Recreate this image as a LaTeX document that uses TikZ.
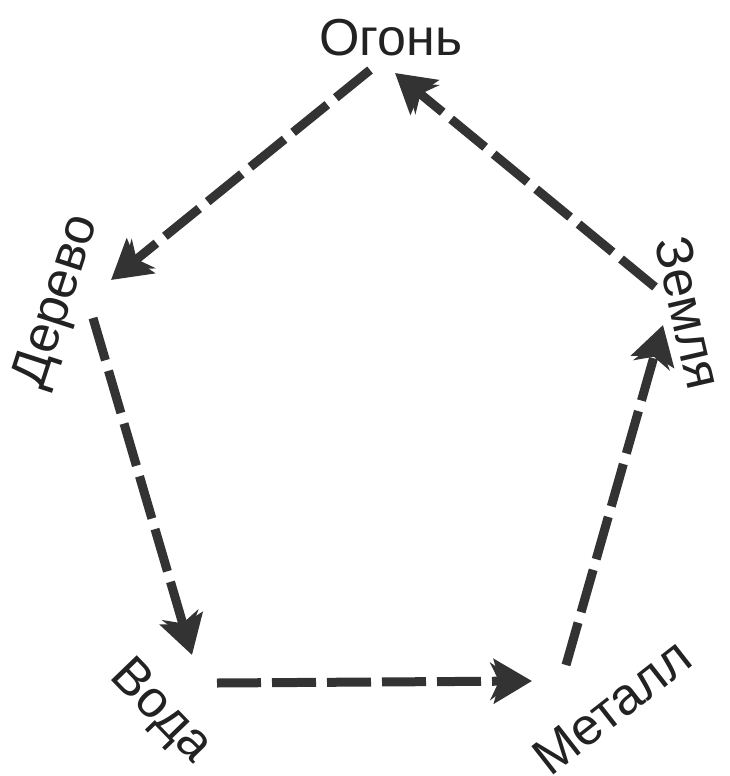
\documentclass[tikz,border=0pt]{standalone}
\usepackage{fontspec}
\setmainfont{Liberation Sans}
\usetikzlibrary{arrows.meta}
\definecolor{ink}{HTML}{333333}
\definecolor{txt}{HTML}{222222}
\begin{document}
\begin{tikzpicture}[x=1pt,y=-1pt,
  lbl/.style={inner sep=0pt,text=txt,font=\fontsize{52}{60}\selectfont},
  link/.style={draw=ink,line width=9pt,dash pattern=on 44pt off 11pt,
    -{Stealth[length=26pt,width=38pt,inset=9pt,sep=-22pt]Stealth[length=38pt,width=44pt,inset=6pt]}}]
\useasboundingbox (0,0) rectangle (729,776);
\node[lbl] (fire) at (391,38) {Огонь};
\node[lbl,rotate=72] (wood) at (58,302) {Дерево};
\node[lbl,rotate=-77] (earth) at (689,313) {Земля};
\node[lbl,rotate=-46] (water) at (160,712) {Вода};
\node[lbl,rotate=38] (metal) at (612,707) {Металл};
\coordinate (s1) at (370,70);  \coordinate (e1) at (111,280);
\coordinate (s2) at (93,318);  \coordinate (e2) at (192,655);
\coordinate (s3) at (217,683); \coordinate (e3) at (532,681);
\coordinate (s4) at (566,665); \coordinate (e4) at (663,325);
\coordinate (s5) at (655,287); \coordinate (e5) at (395,73);
\draw[link] (s1) -- (e1);
\draw[link] (s2) -- (e2);
\draw[link] (s3) -- (e3);
\draw[link] (s4) -- (e4);
\draw[link] (s5) -- (e5);
\end{tikzpicture}
\end{document}
